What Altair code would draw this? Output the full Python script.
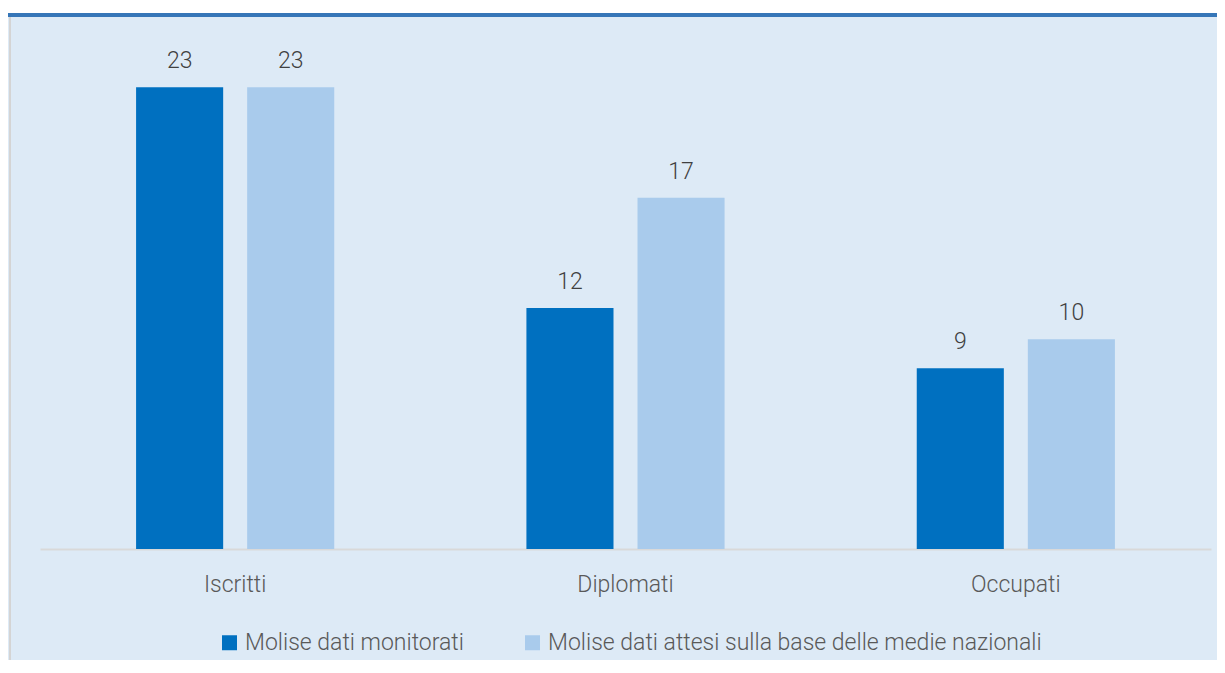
import altair as alt
import pandas as pd

categories = ["Iscritti", "Diplomati", "Occupati"]
series = ["Molise dati monitorati", "Molise dati attesi sulla base delle medie nazionali"]
monitorati = [23.0, 12.0, 9.0]
attesi = [23.0, 17.49, 10.44]

rows = []
for c, m, a in zip(categories, monitorati, attesi):
    rows.append({"cat": c, "serie": series[0], "val": m})
    rows.append({"cat": c, "serie": series[1], "val": a})
df = pd.DataFrame(rows)

W, H = 1171, 502
FONT = "Roboto"
FS = 23
TXT = "#595959"

base = alt.Chart(df)
x = alt.X("cat:N", sort=categories,
          scale=alt.Scale(paddingInner=0, paddingOuter=0),
          axis=alt.Axis(title=None, labelAngle=0, ticks=False, domainColor="#D9D9D9",
                        domainWidth=2, labelFontSize=FS, labelColor=TXT,
                        labelPadding=24, labelFont=FONT, labelFontWeight=300))
xo = alt.XOffset("serie:N", sort=series,
                 scale=alt.Scale(paddingInner=0.216, paddingOuter=0.865))
y = alt.Y("val:Q", scale=alt.Scale(domain=[0, 25], nice=False), axis=None)
color = alt.Color("serie:N", sort=series,
                  scale=alt.Scale(domain=series, range=["#0070C0", "#A9CBEC"]),
                  legend=alt.Legend(title=None, orient="none", legendX=178, legendY=584,
                                    direction="horizontal", symbolType="square",
                                    symbolSize=225, symbolStrokeWidth=0,
                                    labelFontSize=FS, labelColor=TXT, labelFont=FONT,
                                    labelFontWeight=300,
                                    labelLimit=0, columnPadding=57, labelOffset=4))

bars = base.mark_bar().encode(x=x, xOffset=xo, y=y, color=color)
labels = base.mark_text(baseline="bottom", dy=-14, fontSize=FS, color="#404040",
                        font=FONT, fontWeight=300).encode(
    x=x, xOffset=xo, y=y, text=alt.Text("val:Q", format=".0f"))

deco = alt.Chart(pd.DataFrame({"k": [0]}))
white_band = deco.mark_rule(color="white", strokeWidth=5).encode(
    x=alt.value(-40), x2=alt.value(W + 20), y=alt.value(-36.5))
blue_line = deco.mark_rule(color="#3676B8", strokeWidth=4).encode(
    x=alt.value(-34), x2=alt.value(W + 20), y=alt.value(-32))
left_border = deco.mark_rule(color="#D4D4D4", strokeWidth=2).encode(
    x=alt.value(-30), y=alt.value(-30), y2=alt.value(H + 120))

chart = alt.layer(white_band, blue_line, left_border, bars, labels).properties(
    width=W, height=H,
    padding={"left": 32, "top": 39, "right": 6, "bottom": 111},
    autosize=alt.AutoSizeParams(type="none"),
    background="#DDEAF6",
).configure_view(strokeWidth=0)

chart.save("out.html", embed_options={"renderer": "svg", "actions": False})
